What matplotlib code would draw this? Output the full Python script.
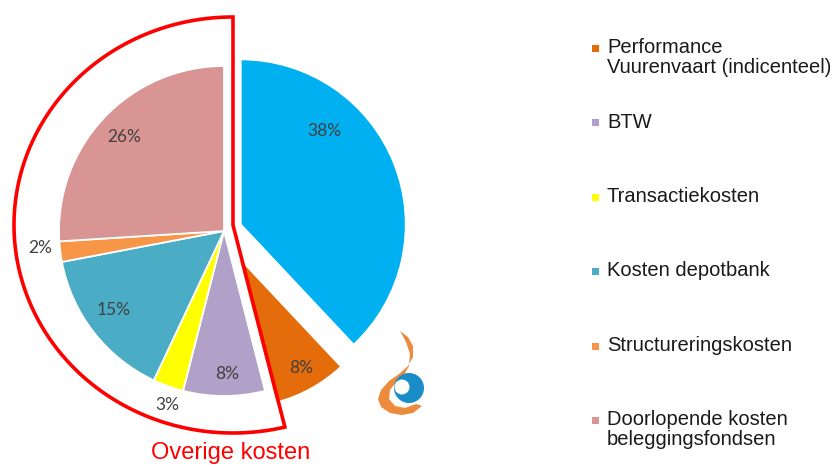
import numpy as np
import matplotlib
matplotlib.use("Agg")
import matplotlib.pyplot as plt
from matplotlib.patches import Polygon, Circle, Rectangle

# ---- data ----
categories = ["Rendement", "Performance\nVuurenvaart (indicenteel)", "BTW", "Transactiekosten",
              "Kosten depotbank", "Structureringskosten", "Doorlopende kosten\nbeleggingsfondsen"]
values = [38, 8, 8, 3, 15, 2, 26]
pct_labels = ["38%", "8%", "8%", "3%", "15%", "2%", "26%"]
colors = ["#00B0F0", "#E46C0A", "#B1A0C7", "#FFFF00", "#4BACC6", "#F79646", "#D99594"]
legend_idx = [1, 2, 3, 4, 5, 6]
group_label = "Overige kosten"
group_start = 2  # slices from BTW onwards are "overige kosten"

W, H = 837, 467
def Y(y):
    return H - y

fig = plt.figure(figsize=(W / 100, H / 100), dpi=100)
ax = fig.add_axes([0, 0, 1, 1])

cx, cy, R = 224, Y(231), 165
wedges, _ = ax.pie(values, colors=colors, startangle=90, counterclock=False,
                   radius=R, center=(cx, cy),
                   wedgeprops=dict(edgecolor="white", linewidth=1.3))

# explode offsets (pixels) and per-slice radius
offsets = [18, 30, 0, 0, 0, 0, 0]
radii = [R, 150, R, R, R, R, R]
for w, off, r in zip(wedges, offsets, radii):
    tm = np.deg2rad(0.5 * (w.theta1 + w.theta2))
    w.set_center((cx + off * np.cos(tm), cy + off * np.sin(tm)))
    w.set_radius(r)

# percentage labels
label_pos = [(324, 131), (301, 368), (227, 374), (167, 405), (114, 310), (40, 248), (124, 137)]
for t, (x, y) in zip(pct_labels, label_pos):
    ax.text(x, Y(y), t, ha="center", va="center", fontsize=12.5, color="#404040",
            family="Lato")

# red outline around "overige kosten"
ox, oy, rx, ry = 233, Y(225), 219, 208
frac_start = sum(values[:group_start]) / sum(values)
th = 2 * np.pi * frac_start  # clockwise from top
d = np.array([np.sin(th), np.cos(th)])
s = 1 / np.sqrt((d[0] / rx) ** 2 + (d[1] / ry) ** 2)
corner = (ox + s * d[0], oy + s * d[1])
t0 = np.arctan2(s * d[1] / ry, s * d[0] / rx)
ts = np.linspace(t0, -1.5 * np.pi, 240)
arc = np.column_stack([ox + rx * np.cos(ts), oy + ry * np.sin(ts)])
pts = np.vstack([[(ox, oy)], [corner], arc, [(ox, oy + ry)]])
ax.add_patch(Polygon(pts, closed=True, fill=False, edgecolor="#FF0000",
                     linewidth=2.6, joinstyle="miter", zorder=5))
ax.text(231, Y(453), group_label, ha="center", va="center", fontsize=17,
        color="#FF0000", family="Liberation Sans")

# legend
ly0, lstep = 48, 74.5
for k, i in enumerate(legend_idx):
    y = ly0 + k * lstep
    ax.add_patch(Rectangle((592, Y(y) - 3.5), 7, 7, facecolor=colors[i], edgecolor="none"))
    ax.text(607, Y(y) + 10, categories[i], ha="left", va="top", fontsize=14.5,
            color="#1a1a1a", family="Liberation Sans", linespacing=1.05)

# logo (decoration)
flame = [(400, 331), (408, 337), (413, 346), (413, 357), (408, 366), (399, 374),
         (389, 381), (381, 390), (378, 399), (381, 407), (390, 413), (402, 415),
         (413, 413), (422, 406),
         (416, 404), (405, 408), (395, 406), (389, 399), (390, 390), (396, 382),
         (404, 375), (409, 366), (410, 354), (406, 342)]
ax.add_patch(Polygon([(x, Y(y)) for x, y in flame], closed=True, facecolor="#EE8A3C",
                     edgecolor="none", zorder=6))
ax.add_patch(Circle((409, Y(388)), 15, facecolor="#1A8CC8", edgecolor="none", zorder=7))
ax.add_patch(Circle((402, Y(387)), 7.5, facecolor="white", edgecolor="none", zorder=8))

ax.set_xlim(0, W)
ax.set_ylim(0, H)
ax.set_aspect("equal")
ax.axis("off")
fig.savefig("out.png", dpi=100)
